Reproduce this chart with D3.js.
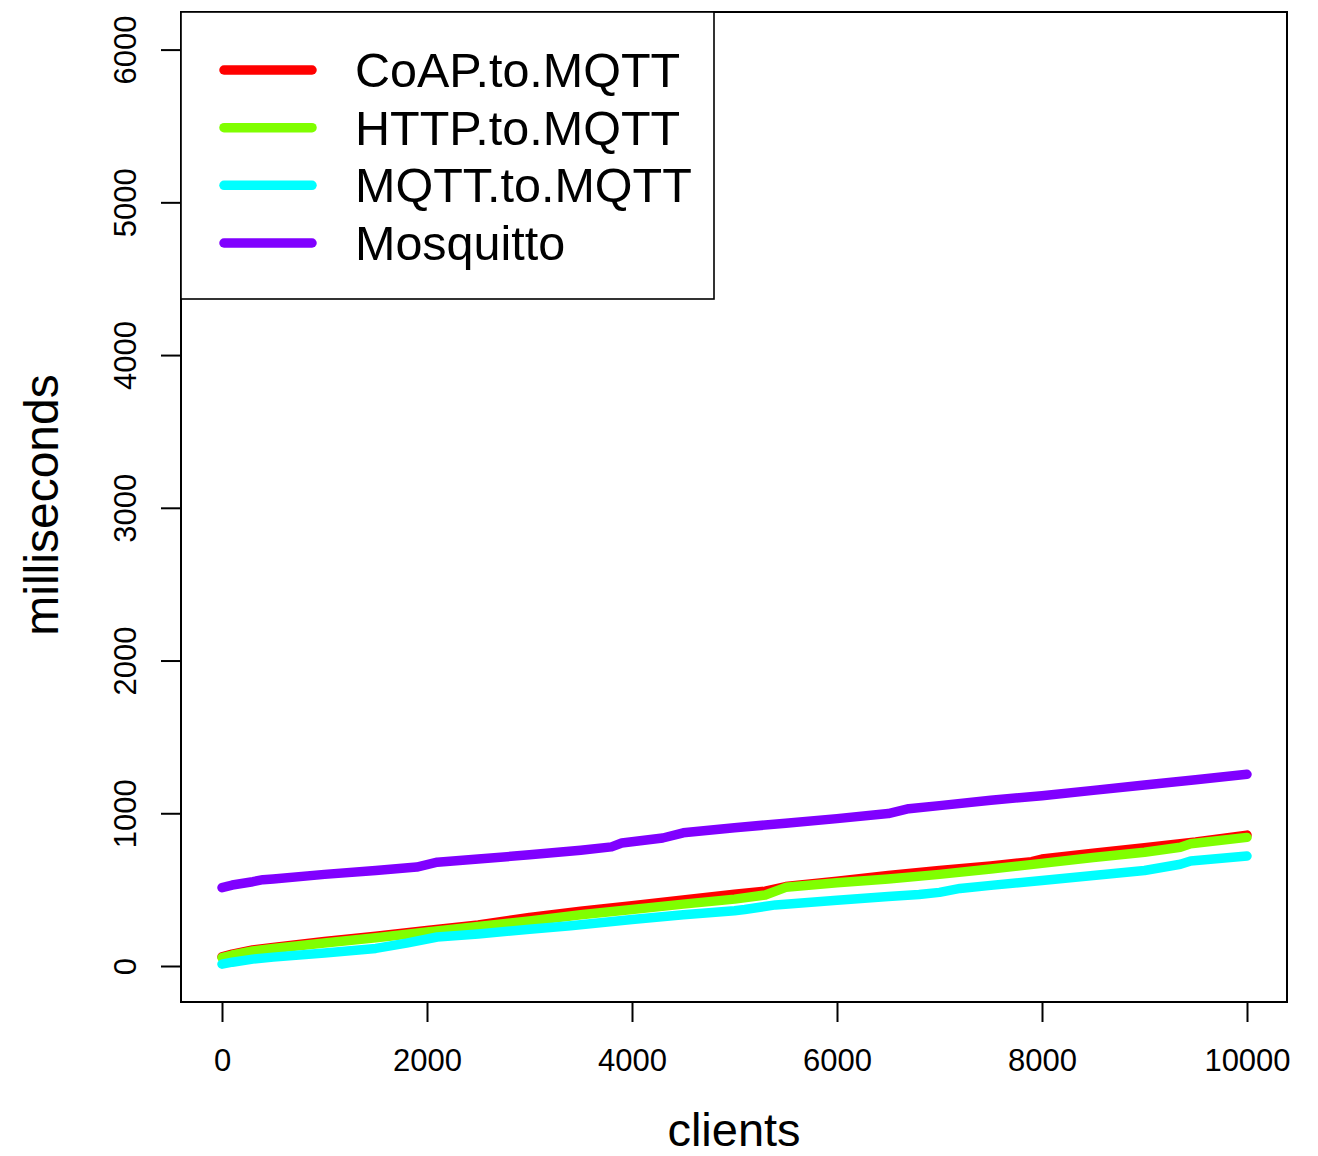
<!DOCTYPE html>
<html>
<head>
<meta charset="utf-8">
<script src="https://cdn.jsdelivr.net/npm/d3@7"></script>
<style>
  html, body { margin: 0; padding: 0; background: #fff; }
  svg { display: block; font-family: "Liberation Sans", Arial, Helvetica, sans-serif; }
</style>
</head>
<body>
<svg id="chart" width="1318" height="1156"></svg>
<script>
// ---- data ----
const seriesNames = ["CoAP.to.MQTT", "HTTP.to.MQTT", "MQTT.to.MQTT", "Mosquitto"];
const seriesColors = ["#FF0000", "#80FF00", "#00FFFF", "#8000FF"];

const coapClients = [0, 100, 300, 500, 1000, 1500, 2000, 2500, 3000, 3500, 4000, 4500, 5000, 5300, 5500, 6000, 6500, 7000, 7500, 7900, 8000, 8500, 9000, 9500, 10000];
const coapMs      = [60, 78, 105, 122, 160, 195, 232, 268, 318, 358, 395, 432, 470, 490, 520, 555, 592, 625, 655, 683, 700, 738, 775, 812, 857];

const httpClients = [0, 100, 300, 500, 1000, 1500, 2000, 2500, 3000, 3500, 4000, 4500, 5000, 5300, 5500, 6000, 6500, 7000, 7500, 8000, 8500, 9000, 9350, 9450, 10000];
const httpMs      = [55, 72, 98, 115, 150, 185, 222, 258, 295, 335, 370, 405, 438, 465, 515, 545, 570, 600, 635, 672, 710, 745, 778, 800, 842];

const mqttClients = [0, 100, 300, 500, 1000, 1500, 1800, 2100, 2500, 3000, 3400, 4000, 4500, 5000, 5100, 5400, 6000, 6500, 6800, 7000, 7200, 7500, 8000, 8500, 9000, 9350, 9450, 10000];
const mqttMs      = [12, 25, 45, 58, 85, 115, 150, 190, 210, 240, 264, 305, 335, 362, 370, 400, 430, 455, 468, 482, 508, 528, 560, 592, 625, 666, 688, 720];

const mosqClients = [0, 100, 300, 400, 500, 1000, 1500, 1900, 2100, 2500, 3000, 3500, 3800, 3900, 4300, 4500, 5000, 5500, 6000, 6500, 6700, 7000, 7500, 8000, 8500, 9000, 9500, 10000];
const mosqMs      = [513, 530, 552, 565, 570, 600, 625, 648, 680, 700, 728, 758, 780, 805, 838, 872, 905, 935, 965, 998, 1030, 1050, 1085, 1115, 1150, 1185, 1220, 1255];

const xTicks = [0, 2000, 4000, 6000, 8000, 10000];
const yTicks = [0, 1000, 2000, 3000, 4000, 5000, 6000];
const xTitle = "clients";
const yTitle = "milliseconds";

// ---- drawing ----
const svg = d3.select("#chart");
const box = { left: 181, right: 1287, top: 12, bottom: 1002 };

const x = d3.scaleLinear().domain([0, 10000]).range([222, 1247]);
const y = d3.scaleLinear().domain([0, 6000]).range([966, 49.6]);

const series = [
  { name: seriesNames[0], color: seriesColors[0], xs: coapClients, ys: coapMs },
  { name: seriesNames[1], color: seriesColors[1], xs: httpClients, ys: httpMs },
  { name: seriesNames[2], color: seriesColors[2], xs: mqttClients, ys: mqttMs },
  { name: seriesNames[3], color: seriesColors[3], xs: mosqClients, ys: mosqMs }
];

const line = d3.line().x(d => x(d[0])).y(d => y(d[1]));

svg.append("g").selectAll("path")
  .data(series)
  .join("path")
  .attr("d", s => line(s.xs.map((v, i) => [v, s.ys[i]])))
  .attr("fill", "none")
  .attr("stroke", s => s.color)
  .attr("stroke-width", 9.5)
  .attr("stroke-linecap", "round")
  .attr("stroke-linejoin", "round");

// axes
const xAxis = svg.append("g")
  .attr("transform", `translate(0,${box.bottom})`)
  .call(d3.axisBottom(x).tickValues(xTicks).tickSize(20).tickPadding(27).tickFormat(d3.format("d")));
xAxis.select(".domain").remove();
xAxis.selectAll(".tick line").attr("stroke", "#000").attr("stroke-width", 2);
xAxis.selectAll(".tick text").attr("font-size", 31).attr("fill", "#000")
  .attr("font-family", "Liberation Sans, Arial, sans-serif");

const yAxis = svg.append("g")
  .attr("transform", `translate(${box.left},0)`)
  .call(d3.axisLeft(y).tickValues(yTicks).tickSize(20).tickFormat(d3.format("d")));
yAxis.select(".domain").remove();
yAxis.selectAll(".tick line").attr("stroke", "#000").attr("stroke-width", 2);
yAxis.selectAll(".tick text")
  .attr("font-size", 31).attr("fill", "#000")
  .attr("font-family", "Liberation Sans, Arial, sans-serif")
  .attr("x", null).attr("dy", null)
  .attr("text-anchor", "middle")
  .attr("transform", "translate(-45,0) rotate(-90)");

// frame
svg.append("rect")
  .attr("x", box.left).attr("y", box.top)
  .attr("width", box.right - box.left).attr("height", box.bottom - box.top)
  .attr("fill", "none").attr("stroke", "#000").attr("stroke-width", 2);

// titles
svg.append("text")
  .attr("x", 734).attr("y", 1146)
  .attr("text-anchor", "middle")
  .attr("font-size", 47)
  .text(xTitle);
svg.append("text")
  .attr("transform", "translate(58,505) rotate(-90)")
  .attr("text-anchor", "middle")
  .attr("font-size", 48)
  .text(yTitle);

// legend
const lg = svg.append("g");
lg.append("rect")
  .attr("x", box.left).attr("y", box.top)
  .attr("width", 714 - box.left).attr("height", 299 - box.top)
  .attr("fill", "#fff").attr("stroke", "#000").attr("stroke-width", 1.6);
const legendY = d3.scalePoint().domain(seriesNames).range([70, 243]);
const items = lg.selectAll("g.item").data(series).join("g").attr("class", "item");
items.append("line")
  .attr("x1", 224).attr("x2", 312)
  .attr("y1", s => legendY(s.name)).attr("y2", s => legendY(s.name))
  .attr("stroke", s => s.color).attr("stroke-width", 9.5)
  .attr("stroke-linecap", "round");
items.append("text")
  .attr("x", 355)
  .attr("y", s => legendY(s.name) + 17)
  .attr("font-size", 48.5)
  .text(s => s.name);
</script>
</body>
</html>
